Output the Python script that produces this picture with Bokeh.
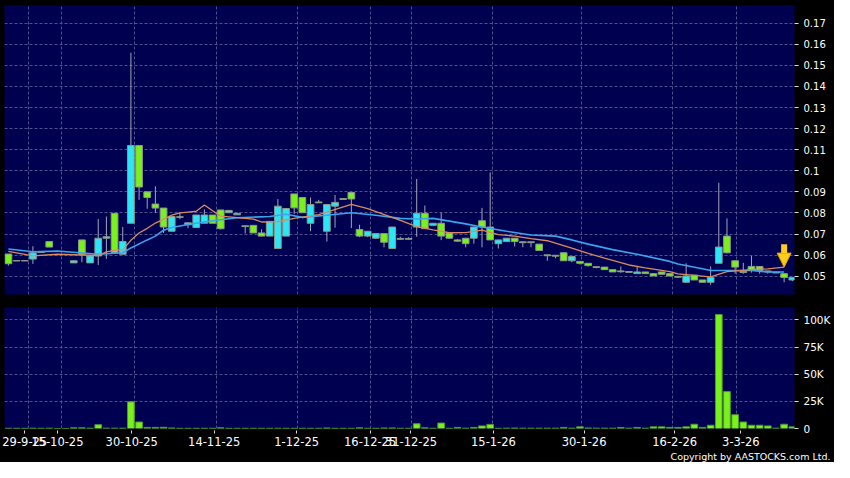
import numpy as np
from bokeh.plotting import figure
from bokeh.layouts import column
from bokeh.models import ColumnDataSource, Range1d, FixedTicker, Arrow, NormalHead, Title
from bokeh.embed import file_html
from bokeh.resources import INLINE

# ---------------- data ----------------
day_index = list(range(97))

price_open = [
    .0605, .0574, .0574, .0581, .0615, .0664, None, None, .0563, .0672,
    .0563, .0596, .0680, .0798, .0604, .0751, .1120, .0900, .0842, .0823,
    .0713, .0782, .0744, .0731, .0751, .0790, .0814, .0801, .0791, .0735,
    .0741, .0705, .0690, .0631, .0690, .0890, .0873, .0751, .0852, .0713,
    .0832, .0868, .0897, .0721, .0690, .0680, .0702, .0631, .0679, .0675,
    .0733, .0798, .0741, .0751, .0705, .0672, .0680, .0680, .0763, .0733,
    .0654, .0664, .0680, .0663, .0663, .0652, .0601, .0599, .0611, .0573,
    .0570, .0561, .0545, .0543, .0531, .0525, .0522, .0512, .0520, .0512,
    .0520, .0512, .0499, .0471, .0505, .0482, .0471, .0561, .0690, .0573,
    .0517, .0546, .0546, .0520, .0519, .0512, .0482]
price_high = [
    .0605, .0574, .0574, .0642, .0615, .0664, None, None, .0573, .0672,
    .0596, .0771, .0783, .0798, .0733, .1560, .1120, .0900, .0926, .0823,
    .0783, .0800, .0753, .0790, .0817, .0790, .0814, .0812, .0798, .0739,
    .0741, .0722, .0760, .0866, .0821, .0890, .0873, .0873, .0862, .0840,
    .0885, .0868, .0897, .0744, .0713, .0702, .0702, .0733, .0687, .0684,
    .0961, .0835, .0751, .0801, .0705, .0676, .0680, .0735, .0824, .0992,
    .0672, .0680, .0680, .0663, .0663, .0652, .0601, .0599, .0611, .0593,
    .0570, .0561, .0545, .0543, .0531, .0546, .0522, .0546, .0520, .0512,
    .0520, .0512, .0499, .0561, .0505, .0482, .0546, .0943, .0774, .0573,
    .0563, .0596, .0546, .0525, .0522, .0512, .0494]
price_low = [
    .0550, .0572, .0572, .0558, .0613, .0638, None, None, .0563, .0566,
    .0563, .0553, .0582, .0611, .0604, .0751, .0862, .0820, .0800, .0705,
    .0713, .0770, .0728, .0731, .0751, .0751, .0721, .0801, .0791, .0702,
    .0705, .0690, .0690, .0631, .0690, .0794, .0801, .0713, .0848, .0664,
    .0730, .0864, .0728, .0685, .0685, .0676, .0637, .0631, .0675, .0675,
    .0687, .0725, .0741, .0671, .0676, .0664, .0637, .0654, .0637, .0672,
    .0631, .0664, .0641, .0637, .0637, .0622, .0573, .0585, .0573, .0566,
    .0555, .0545, .0537, .0531, .0520, .0516, .0518, .0512, .0512, .0501,
    .0509, .0501, .0492, .0471, .0482, .0471, .0459, .0561, .0608, .0512,
    .0512, .0517, .0512, .0512, .0515, .0471, .0476]
price_close = [
    .0559, .0572, .0572, .0611, .0613, .0638, None, None, .0573, .0604,
    .0596, .0680, .0687, .0611, .0664, .1120, .0923, .0873, .0823, .0733,
    .0783, .0779, .0753, .0790, .0790, .0751, .0725, .0812, .0798, .0739,
    .0705, .0690, .0760, .0832, .0821, .0824, .0801, .0840, .0848, .0840,
    .0850, .0864, .0866, .0690, .0713, .0702, .0661, .0733, .0675, .0679,
    .0798, .0725, .0751, .0690, .0680, .0666, .0654, .0733, .0733, .0672,
    .0672, .0680, .0664, .0659, .0659, .0622, .0597, .0595, .0573, .0593,
    .0561, .0550, .0541, .0531, .0520, .0521, .0518, .0520, .0512, .0501,
    .0509, .0501, .0495, .0501, .0482, .0471, .0494, .0638, .0611, .0543,
    .0523, .0527, .0527, .0525, .0515, .0494, .0494]
volume_k = [
    0.2, 0.2, 0.2, 0.3, 0.2, 0.3, 0.0, 0.0, 0.6, 0.6,
    0.3, 3.5, 0.3, 0.3, 0.3, 24.6, 6.0, 1.0, 1.0, 1.1,
    0.5, 0.2, 0.2, 0.2, 0.2, 0.2, 0.6, 0.2, 0.2, 0.2,
    0.2, 0.2, 0.2, 0.2, 0.2, 0.2, 0.2, 0.2, 0.2, 0.5,
    0.2, 0.2, 0.2, 0.6, 0.2, 0.2, 0.5, 0.5, 0.2, 0.2,
    4.4, 0.6, 0.2, 5.0, 0.2, 1.0, 0.3, 1.0, 2.4, 3.8,
    0.2, 0.3, 0.4, 0.3, 0.3, 0.3, 0.3, 0.3, 1.0, 0.3,
    1.5, 0.5, 0.3, 0.3, 0.3, 1.0, 0.3, 1.0, 0.3, 1.5,
    1.5, 1.0, 1.0, 1.5, 3.9, 1.0, 3.0, 105.0, 34.0, 12.7,
    6.0, 3.0, 3.0, 2.4, 0.3, 3.9, 1.5]

ma10_idx = [0, 3, 6, 11, 12, 13, 14, 15, 16, 17, 18, 19, 20, 21, 22, 23, 24, 25, 26, 30,
            31, 33, 35, 38, 42, 44, 48, 50, 52, 54, 56, 58, 60, 62, 64, 66, 69, 71, 73, 76,
            78, 81, 82, 86, 88, 91, 93, 95]
ma10_val = [.0618, .0596, .0604, .0598, .0615, .0622, .0625, .0670, .0705, .0727,
            .0752, .0770, .0790, .0800, .0804, .0808, .0838, .0810, .0785, .0771,
            .0757, .0759, .0774, .0792, .0840, .0820, .0765, .0735, .0720, .0706,
            .0707, .0718, .0697, .0690, .0678, .0668, .0633, .0608, .0585, .0553,
            .0539, .0522, .0511, .0497, .0522, .0531, .0535, .0543]
ma20_idx = [0, 3, 6, 11, 14, 15, 17, 18, 19, 20, 22, 25, 28, 32, 34, 36, 39, 42, 45, 48,
            50, 52, 56, 58, 61, 64, 67, 69, 71, 74, 77, 81, 82, 85, 86, 88, 91, 93, 95]
ma20_val = [.0629, .0616, .0619, .0604, .0611, .0634, .0672, .0690, .0718, .0731,
            .0745, .0763, .0777, .0783, .0794, .0779, .0789, .0801, .0789, .0774,
            .0771, .0774, .0748, .0733, .0713, .0695, .0690, .0672, .0652, .0626,
            .0604, .0570, .0558, .0535, .0527, .0527, .0527, .0520, .0520]

x_tick_pos = [2.0, 6.0, 15.1, 25.2, 35.3, 44.3, 49.3, 59.4, 70.5, 81.6, 89.7]
x_grid_pos = [2.4, 6.5, 15.4, 25.45, 35.4, 44.3, 49.35, 59.3, 70.2, 81.3, 89.2]
x_tick_labels = ["29-9-25", "15-10-25", "30-10-25", "14-11-25", "1-12-25", "16-12-25",
                 "31-12-25", "15-1-26", "30-1-26", "16-2-26", "3-3-26"]
price_ticks = [0.05, 0.06, 0.07, 0.08, 0.09, 0.1, 0.11, 0.12, 0.13, 0.14, 0.15, 0.16, 0.17]
price_tick_labels = ["0.05", "0.06", "0.07", "0.08", "0.09", "0.1", "0.11", "0.12",
                     "0.13", "0.14", "0.15", "0.16", "0.17"]
vol_ticks = [0, 25000, 50000, 75000, 100000]
vol_tick_labels = ["0", "25K", "50K", "75K", "100K"]

# ---------------- styling ----------------
BG = "#000050"
GRID = "#50508c"
CYAN = "#2ce6f5"
GREEN = "#7af01c"
OUTLINE = "#8a9a8a"
VOL_OUTLINE = "#4e9a2a"
WICK = "#a4a4b8"
ORANGE = "#d98b5f"
BLUE = "#3ba5ec"
GOLD = "#ffcc1a"
FONT = "DejaVu Sans"


def arr(v):
    return np.array([np.nan if a is None else a for a in v], dtype=float)


o, h, l, c = arr(price_open), arr(price_high), arr(price_low), arr(price_close)
colors = [CYAN if (cc >= oo) else GREEN for oo, cc in zip(o, c)]
src = ColumnDataSource(dict(x=day_index, o=o, h=h, l=l, c=c,
                            top=np.fmax(o, c), bottom=np.fmin(o, c), color=colors,
                            vol=np.array(volume_k) * 1000.0))

xr = Range1d(-0.48, 96.27)


def style(p):
    p.background_fill_color = BG
    p.border_fill_color = "black"
    p.outline_line_color = None
    p.grid.grid_line_color = GRID
    p.grid.grid_line_dash = "3 2"
    p.grid.grid_line_width = 1
    for ax in p.yaxis:
        ax.axis_line_color = None
        ax.major_tick_line_color = "#dddddd"
        ax.major_tick_out = 4
        ax.major_tick_in = 0
        ax.minor_tick_line_color = None
        ax.major_label_text_color = "white"
        ax.major_label_text_font = FONT
        ax.major_label_text_font_size = "10px"
        ax.major_label_standoff = 5


# ---------------- price panel ----------------
p1 = figure(width=834, height=300, x_range=xr, y_range=Range1d(0.0413, 0.1784),
            output_backend="svg", toolbar_location=None, x_axis_location=None,
            y_axis_location="right", min_border_left=4, min_border_right=40,
            min_border_top=5, min_border_bottom=6)
style(p1)
p1.xgrid.ticker = FixedTicker(ticks=x_grid_pos)
p1.yaxis.ticker = FixedTicker(ticks=price_ticks)
p1.ygrid.ticker = FixedTicker(ticks=price_ticks)
p1.yaxis.major_label_overrides = dict(zip(price_ticks, price_tick_labels))

p1.segment(x0="x", y0="h", x1="x", y1="l", source=src, line_color=WICK, line_width=1)
p1.vbar(x="x", width=0.82, top="top", bottom="bottom", source=src,
        fill_color="color", line_color=OUTLINE, line_width=1)
p1.line(ma20_idx, ma20_val, line_color=BLUE, line_width=1.6)
p1.line(ma10_idx, ma10_val, line_color=ORANGE, line_width=1.3)

arrow_x, arrow_y = ma10_idx[-1], ma10_val[-1]
p1.add_layout(Arrow(end=NormalHead(size=14, fill_color=GOLD, line_color="#e0a000", line_width=1),
                    x_start=arrow_x, y_start=arrow_y + 0.0108, x_end=arrow_x, y_end=arrow_y,
                    line_color=GOLD, line_width=6))

# ---------------- volume panel ----------------
p2 = figure(width=834, height=162, x_range=xr, y_range=Range1d(0, 111500),
            output_backend="svg", toolbar_location=None, y_axis_location="right",
            min_border_left=4, min_border_right=40, min_border_top=7, min_border_bottom=0)
style(p2)
p2.xgrid.ticker = FixedTicker(ticks=x_grid_pos)
p2.yaxis.ticker = FixedTicker(ticks=vol_ticks)
p2.ygrid.ticker = FixedTicker(ticks=vol_ticks)
p2.yaxis.major_label_overrides = dict(zip(vol_ticks, vol_tick_labels))
p2.yaxis.major_label_text_font_size = "10.5px"

xa = p2.xaxis[0]
xa.ticker = FixedTicker(ticks=x_tick_pos)
xa.major_label_overrides = dict(zip(x_tick_pos, x_tick_labels))
xa.axis_line_color = None
xa.major_tick_line_color = "#dddddd"
xa.major_tick_out = 5
xa.major_tick_in = -2
xa.minor_tick_line_color = None
xa.major_label_text_color = "white"
xa.major_label_text_font = FONT
xa.major_label_text_font_size = "11.5px"
xa.major_label_standoff = 3

p2.vbar(x="x", width=0.82, top="vol", bottom=0, source=src,
        fill_color=GREEN, line_color=VOL_OUTLINE, line_width=1)

p2.add_layout(Title(text="Copyright by AASTOCKS.com Ltd.", align="right",
                    text_color="white", text_font=FONT, text_font_size="9.5px",
                    text_font_style="normal", standoff=1, offset=-36), "below")

layout = column(p1, p2, spacing=0)
layout.styles = {"background-color": "black"}

open("out.html", "w").write(file_html(layout, INLINE))
